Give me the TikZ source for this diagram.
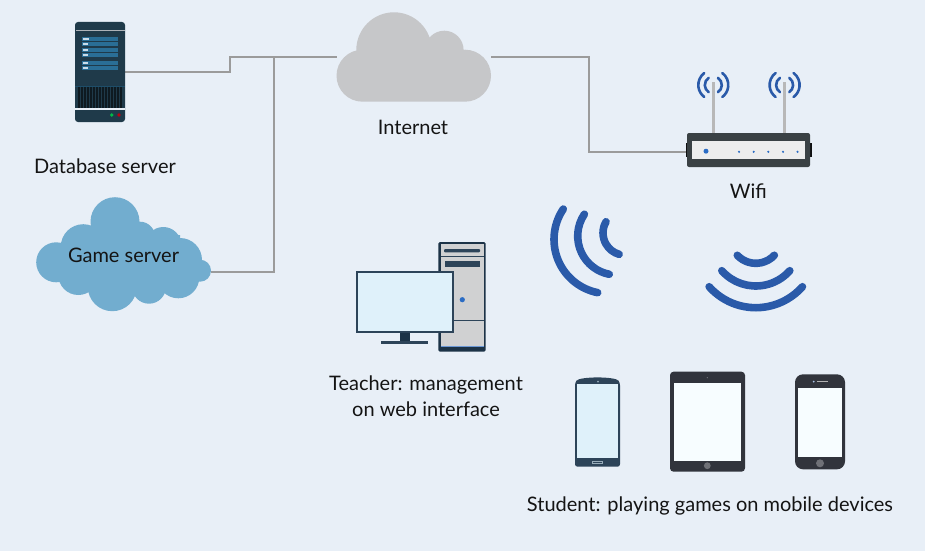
\documentclass[tikz,border=0pt]{standalone}
\usepackage{fontspec}
\setmainfont{Lato}
\definecolor{bgc}{HTML}{E8EFF7}
\definecolor{wirec}{HTML}{9B9B9B}
\definecolor{gamec}{HTML}{72ADCF}
\definecolor{netc}{HTML}{C6C7C9}
\definecolor{wavec}{HTML}{2A5AA9}
\definecolor{srvc}{HTML}{1F3A4A}
\definecolor{barc}{HTML}{2A6E96}
\definecolor{routerc}{HTML}{3A4144}
\definecolor{navyc}{HTML}{2D4459}
\definecolor{towerc}{HTML}{1C3347}
\definecolor{screenc}{HTML}{DFF1FA}
\definecolor{dotc}{HTML}{2B6CC4}
\definecolor{slatec}{HTML}{31343C}
\definecolor{whitec}{HTML}{F7FDFF}
\newcommand{\warc}[5]{({#1+(#3)*cos(#4)},{#2-(#3)*sin(#4)}) arc[start angle=#4,end angle=#5,radius=#3 pt]}
\tikzset{
  wire/.style={draw=wirec,line width=2pt},
  label text/.style={font=\fontsize{20}{26}\selectfont,text=black!92,inner sep=0pt,align=center},
  bigwave/.style={draw=wavec,line width=7.6pt,line cap=round},
  smallwave/.style={draw=wavec,line width=2.6pt,line cap=round},
  antenna/.style={draw=black!28,line width=2.6pt},
}
\begin{document}
\begin{tikzpicture}[x=1pt,y=-1pt]
\useasboundingbox (0,0) rectangle (925,551);
\fill[bgc] (0,0) rectangle (925,551);
% connector ends
\coordinate (dbport) at (125,72);
\coordinate (dbbend) at (230,57);
\coordinate (netin) at (337,57);
\coordinate (gameport) at (211,272);
\coordinate (gamejoin) at (274,57);
\coordinate (netout) at (491,57);
\coordinate (netdrop) at (589,57);
\coordinate (routerport) at (688,152);
% connectors
\draw[wire] (dbport) -| (dbbend) -- (netin);
\draw[wire] (gameport) -| (gamejoin);
\draw[wire] (netout) -- (netdrop) |- (routerport);
% database server
\fill[srvc] (75,22) [rounded corners=3pt] rectangle (125,122);
\fill[black!25!bgc] (75.5,30) rectangle (124.5,31.5);
\foreach \a/\b/\h in {37/41/89,42/45.7/88,48.3/52/88,53/57/88,61/65/88,66/70/88}{
  \fill[barc] (82,\a) rectangle (118,\b);
  \fill[bgc!85!barc] (82.5,{\a+1}) rectangle (\h,{\b-1});
}
\fill[black!30!barc] (75,85.7) rectangle (125,87);
\fill[black!55!srvc] (78,87) rectangle (121.5,108);
\foreach \x in {80,83,...,120}{\fill[srvc] (\x,87) rectangle ({\x+1},108);}
\fill[bgc] (75,108.4) rectangle (125,109.6);
\fill[green!45!teal] (111.7,115) circle[radius=1.8pt];
\fill[red!65!purple!80!black] (119,115) circle[radius=1.8pt];
% internet cloud
\fill[netc] (362.5,75.7) circle[radius=26pt] (465,75.7) circle[radius=26pt] (394,50) circle[radius=37.7pt] (444.3,50) circle[radius=19.3pt] (362.5,50) rectangle (465,101.7);
\node[label text] (internet) at (413,127) {Internet};
\node[label text] (dblabel) at (105,166) {Database server};
% game cloud
\fill[gamec] (115,221.7) circle[radius=24.5pt] (56.2,262.3) circle[radius=20pt] (83.3,246.7) circle[radius=22.5pt] (78.3,275) circle[radius=20pt] (112.3,286.7) circle[radius=24.5pt] (149,286.7) circle[radius=17pt] (178.3,277.3) circle[radius=21pt] (180,260) circle[radius=22pt] (163.3,245) circle[radius=18pt] (140,236.7) circle[radius=15pt] (200,270.7) circle[radius=11pt] (75,235) rectangle (180,285);
\node[label text] (gamelabel) at (123.5,255) {Game server};
% router
\foreach \cx in {713.3,784.6}{
  \draw[antenna] (\cx,82) -- (\cx,134);
  \draw[smallwave] \warc{\cx}{85}{15}{127}{233};
  \draw[smallwave] \warc{\cx}{85}{15}{53}{-53};
  \draw[smallwave] \warc{\cx}{85}{8.5}{123}{237};
  \draw[smallwave] \warc{\cx}{85}{8.5}{57}{-57};
}
\fill[black!75!routerc] (685.8,143) rectangle (812,157);
\fill[routerc,rounded corners=2pt] (687,133) rectangle (810,167);
\fill[black!7] (692,141) rectangle (805,158.5);
\fill[dotc] (706,151.2) circle[radius=2.5pt];
\foreach \x in {739,753.7,768.3,783,797.5}{\fill[dotc] (\x,151.8) circle[radius=1.2pt];}
\node[label text] (wifilabel) at (748.3,191.5) {Wifi};
% big waves
\draw[bigwave] \warc{608.3}{239.4}{54.3}{146}{258.7};
\draw[bigwave] \warc{616.7}{236}{39}{146}{259};
\draw[bigwave] \warc{625.3}{232.9}{22.3}{150}{254};
\draw[bigwave] \warc{755.8}{245.3}{62.4}{221.6}{318.4};
\draw[bigwave] \warc{755.8}{240.6}{45.4}{221.5}{318.5};
\draw[bigwave] \warc{755.8}{237.9}{25.4}{223.2}{316.8};
% teacher computer
\fill[towerc,rounded corners=1.5pt] (438.3,242) rectangle (485.7,351.7);
\fill[black!5!netc!70!white] (440.5,244) rectangle (483.6,346.7);
\fill[dotc!70!white] (440.5,346.2) rectangle (483.6,347.4);
\fill[navyc] (440.5,255.8) rectangle (483.6,256.8);
\fill[navyc,rounded corners=1pt] (444,249) rectangle (480,252.3);
\fill[navyc] (444.7,260.7) rectangle (480,266.7);
\fill[navyc] (440.5,319.8) rectangle (483.6,320.8);
\fill[dotc] (462.3,299.7) circle[radius=2.6pt];
\fill[towerc] (399.7,332) rectangle (410.3,342);
\fill[navyc] (381.3,340.7) rectangle (428.3,344.3);
\draw[navyc,fill=screenc,line width=2pt] (357,272.3) rectangle (452.7,331.7);
\node[label text] (teacherlabel) at (426,396) {Teacher: management\\on web interface};
% phone
\fill[navyc,rounded corners=2.5pt] (575,383) .. controls (579,376.3) and (616,376.3) .. (620,383) -- (620,466.7) -- (575,466.7) -- cycle;
\fill[screenc] (577,384.3) rectangle (618,458);
\fill[screenc!60!navyc] (598,381.7) circle[radius=1pt];
\draw[screenc!60!navyc,line width=0.7pt] (592.5,461.2) rectangle (602.5,463.6);
% tablet
\fill[slatec,rounded corners=3.5pt] (670,371.7) rectangle (745,471.7);
\fill[whitec] (673.7,382.7) rectangle (741.3,460.7);
\fill[slatec!70!white] (707.3,465.7) circle[radius=3.4pt];
\fill[slatec!70!white] (707.3,377.7) circle[radius=.7pt];
% smartphone
\fill[slatec,rounded corners=8pt] (795,374.3) rectangle (845,469.3);
\fill[whitec] (798.3,387.7) rectangle (842,457.3);
\fill[slatec!70!white] (820,463.3) circle[radius=4pt];
\fill[dotc!40!white] (813.7,381.7) circle[radius=1pt];
\fill[black!30] (816.7,381.1) rectangle (827.7,382.3);
\node[label text] (studentlabel) at (710,505.5) {Student: playing games on mobile devices};
\end{tikzpicture}
\end{document}
